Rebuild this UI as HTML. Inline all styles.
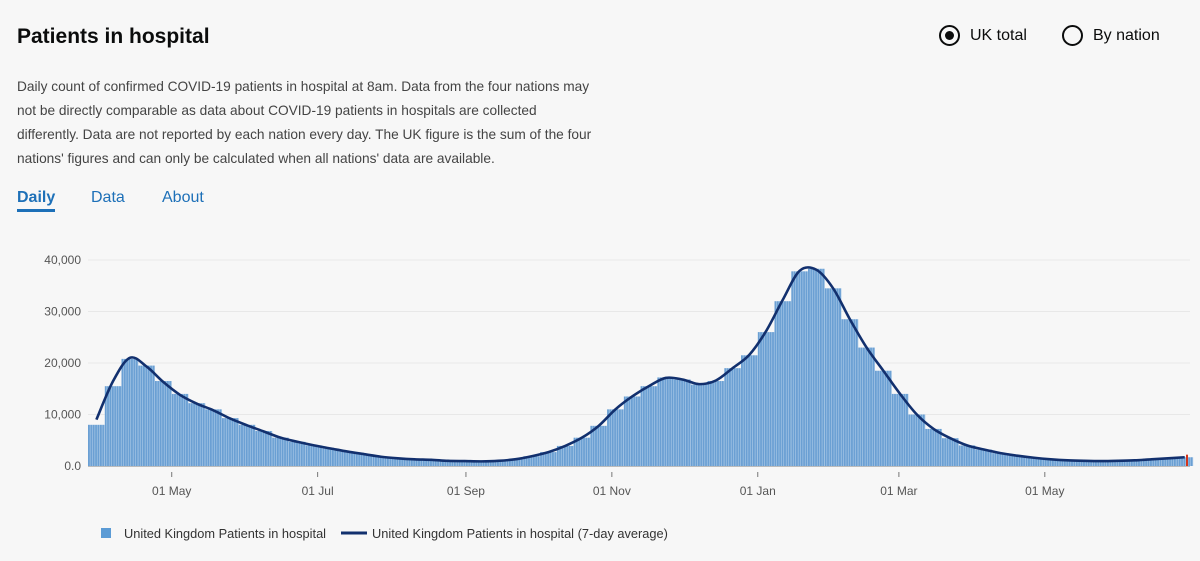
<!DOCTYPE html>
<html><head><meta charset="utf-8"><style>
body{margin:0;width:1200px;height:561px;background:#f7f7f7;font-family:"Liberation Sans",Arial,sans-serif;overflow:hidden;position:relative;color:#0b0c0c}
.t{position:absolute}
</style></head><body>
<div class="t" style="left:17px;top:25px;font-size:21px;font-weight:bold">Patients in hospital</div>
<div class="t" style="left:939px;top:25px;font-size:16px;display:flex;align-items:center;gap:10px"><span style="width:17px;height:17px;border:2px solid #0b0c0c;border-radius:50%;display:inline-block;position:relative"><span style="position:absolute;left:4px;top:4px;width:9px;height:9px;border-radius:50%;background:#0b0c0c"></span></span>UK total</div>
<div class="t" style="left:1062px;top:25px;font-size:16px;display:flex;align-items:center;gap:10px"><span style="width:17px;height:17px;border:2px solid #0b0c0c;border-radius:50%;display:inline-block"></span>By nation</div>
<div class="t" style="left:17px;top:75px;width:640px;white-space:nowrap;font-size:13.7px;line-height:24px;color:#444">Daily count of confirmed COVID-19 patients in hospital at 8am. Data from the four nations may<br>not be directly comparable as data about COVID-19 patients in hospitals are collected<br>differently. Data are not reported by each nation every day. The UK figure is the sum of the four<br>nations' figures and can only be calculated when all nations' data are available.</div>
<div class="t" style="left:17px;top:189px;font-size:16px;font-weight:bold;color:#1d70b8;border-bottom:3px solid #1d70b8;padding-bottom:2px">Daily</div>
<div class="t" style="left:91px;top:189px;font-size:16px;color:#1d70b8">Data</div>
<div class="t" style="left:162px;top:189px;font-size:16px;color:#1d70b8">About</div>
<svg id="chart" width="1200" height="561" style="position:absolute;left:0;top:0;font-family:'Liberation Sans',Arial,sans-serif">
<defs><pattern id="stripes" patternUnits="userSpaceOnUse" x="88" y="0" width="2.392" height="10"><rect width="2.392" height="10" fill="#b3cfea"/><rect width="1.8" height="10" fill="#6a9fd3"/></pattern></defs>
</svg>
<script>
const yTicks=[0,10000,20000,30000,40000];
const yTickLabels=["0.0","10,000","20,000","30,000","40,000"];
const xTickDays=[35,96,158,219,280,339,400];
const xTickLabels=["01 May","01 Jul","01 Sep","01 Nov","01 Jan","01 Mar","01 May"];
const weeklyValues=[8000,15500,20800,19500,16500,14000,12200,11000,9300,8000,6800,5500,4700,4000,3400,2800,2300,1800,1500,1300,1200,1000,950,900,1000,1300,1900,2700,3900,5500,7800,11000,13500,15500,17200,16800,15800,16500,19000,21500,26000,32000,37800,38300,34500,28500,23000,18500,14000,10000,7200,5400,4000,3200,2500,2000,1600,1300,1100,1000,950,1000,1100,1300,1500,1700];
const avgValues=[9000,16500,21000,19300,16300,13800,12100,10800,9200,7900,6700,5500,4700,4000,3400,2800,2300,1800,1500,1300,1200,1000,950,900,1000,1300,1900,2700,3900,5500,7800,11000,13500,15500,17100,16800,15900,16600,19000,21600,26200,32300,37900,38100,34500,28500,23000,18500,14000,10000,7200,5400,4000,3200,2500,2000,1600,1300,1100,1000,950,1000,1100,1300,1500,1700];
const svg=document.getElementById('chart');const NS='http://www.w3.org/2000/svg';
const x=d=>88+d*2.392, y=v=>466-v*206/40000;
function mk(t,a){const e=document.createElementNS(NS,t);for(const k in a)e.setAttribute(k,a[k]);svg.appendChild(e);return e;}
yTicks.forEach((v,i)=>{const g=mk('line',{x1:88,x2:1190,y1:y(v),y2:y(v),stroke:'#e8e8e8'});


const t=mk('text',{x:81,y:y(v)+4,'text-anchor':'end','font-size':12,fill:'#555'});t.textContent=yTickLabels[i];

});
weeklyValues.forEach((v,i)=>{const b=mk('rect',{x:x(i*7),y:y(v),width:7*2.392,height:466-y(v),fill:'url(#stripes)'});

});
const r=mk('rect',{x:1186,y:y(2200),width:2,height:466-y(2200),fill:'#d4351c'});


const pts=avgValues.map((v,i)=>[x(i*7+3.5),y(v)]);
let d='M'+pts[0][0]+','+pts[0][1];
for(let i=0;i<pts.length-1;i++){const p0=pts[Math.max(0,i-1)],p1=pts[i],p2=pts[i+1],p3=pts[Math.min(pts.length-1,i+2)];
d+=` C${p1[0]+(p2[0]-p0[0])/6},${p1[1]+(p2[1]-p0[1])/6} ${p2[0]-(p3[0]-p1[0])/6},${p2[1]-(p3[1]-p1[1])/6} ${p2[0]},${p2[1]}`;}
const ln=mk('path',{d:d,fill:'none',stroke:'#12306e','stroke-width':2.6});


mk('line',{x1:88,x2:1190,y1:466.5,y2:466.5,stroke:'#bbb'});
xTickDays.forEach((dd,i)=>{mk('line',{x1:x(dd),x2:x(dd),y1:472,y2:477,stroke:'#777'});
const t=mk('text',{x:x(dd),y:495,'text-anchor':'middle','font-size':12,fill:'#555'});t.textContent=xTickLabels[i];

});
const l1=mk('rect',{x:101,y:528,width:10,height:10,fill:'#5b9bd5'});


const t1=mk('text',{x:124,y:538,'font-size':12.8,fill:'#333'});t1.textContent='United Kingdom Patients in hospital';


const l2=mk('line',{x1:341,x2:367,y1:533,y2:533,stroke:'#12306e','stroke-width':3});


const t2=mk('text',{x:372,y:538,'font-size':12.8,fill:'#333'});t2.textContent='United Kingdom Patients in hospital (7-day average)';


</script>
</body></html>
